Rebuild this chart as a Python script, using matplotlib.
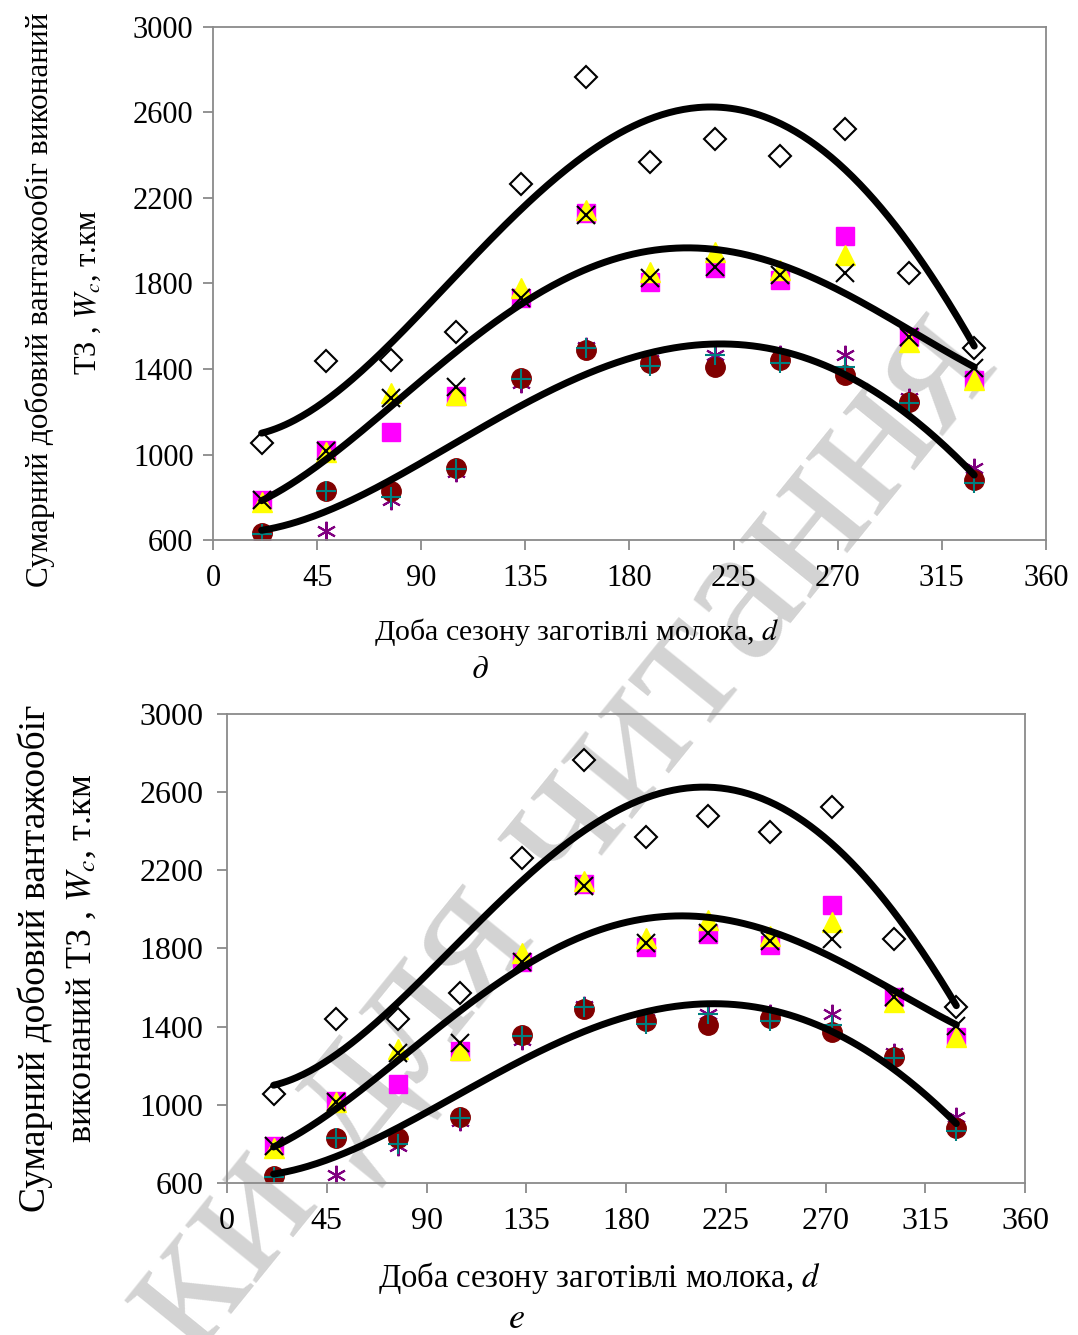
import numpy as np
import matplotlib
matplotlib.use("Agg")
import matplotlib.pyplot as plt

plt.rcParams['font.family'] = ['Liberation Serif', 'DejaVu Serif']
plt.rcParams['mathtext.fontset'] = 'stix'

# Data (day of season, t.km)
days = [21, 49, 77, 105, 133, 161, 189, 217, 245, 273, 301, 329]
diamond = [1055, 1437, 1440, 1573, 2265, 2766, 2368, 2476, 2396, 2523, 1849, 1498]
square = [787, 1021, 1105, 1274, 1732, 2130, 1807, 1872, 1816, 2022, 1550, 1348]
triangle = [780, 1012, 1288, 1278, 1779, 2144, 1854, 1947, 1863, 1933, 1526, 1348]
xcross = [787, 1016, 1264, 1316, 1732, 2120, 1826, 1877, 1840, 1849, 1550, 1405]
circle = [633, 829, 829, 937, 1358, 1489, 1428, 1409, 1442, 1372, 1246, 881]
plus = [630, 829, 801, 932, 1353, 1500, 1415, 1465, 1428, 1409, 1241, 867]
asterisk = [620, 642, 787, 918, 1334, 1505, 1440, 1465, 1465, 1465, 1264, 937]

# trend lines at the same days
trend_upper = [1105, 1264, 1475, 1852, 2175, 2424, 2551, 2593, 2541, 2364, 1989, 1498]
trend_middle = [787, 974, 1217, 1490, 1709, 1863, 1943, 1957, 1896, 1755, 1582, 1409]
trend_lower = [656, 717, 871, 1068, 1246, 1381, 1456, 1512, 1479, 1381, 1194, 895]

xticks = [0, 45, 90, 135, 180, 225, 270, 315, 360]
yticks = [600, 1000, 1400, 1800, 2200, 2600, 3000]

spine_col = '#8a8a8a'


def draw_panel(ax, tick_fs, ypad):
    ax.set_facecolor('none')
    ax.plot(days, diamond, linestyle='none', marker='D', ms=11.5, mfc='white',
            mec='black', mew=1.5)
    ax.plot(days, square, linestyle='none', marker='s', ms=13, mfc='#FF00FF',
            mec='#FF00FF')
    ax.plot(days, triangle, linestyle='none', marker='^', ms=14, mfc='#FFFF00',
            mec='#FFFF00')
    ax.plot(days, xcross, linestyle='none', marker='x', ms=13, mec='black',
            mew=1.5)
    ax.plot(days, asterisk, linestyle='none', marker=(6, 2, 0), ms=14,
            mec='#800080', mew=1.5)
    ax.plot(days, circle, linestyle='none', marker='o', ms=14, mfc='#800000',
            mec='#800000')
    ax.plot(days, plus, linestyle='none', marker='+', ms=15, mec='#008080',
            mew=1.5)

    xs = np.linspace(days[0], days[-1], 300)
    for tr in (trend_upper, trend_middle, trend_lower):
        coef = np.polyfit(days, tr, 4)
        ax.plot(xs, np.polyval(coef, xs), color='black', lw=5,
                solid_capstyle='round')

    ax.set_xlim(0, 360)
    ax.set_ylim(600, 3000)
    ax.set_xticks(xticks)
    ax.set_yticks(yticks)
    for sp in ax.spines.values():
        sp.set_color(spine_col)
        sp.set_linewidth(1.3)
    ax.tick_params(direction='out', length=7, width=1.3, color=spine_col,
                   labelsize=tick_fs)
    ax.tick_params(axis='x', pad=10)
    ax.tick_params(axis='y', pad=ypad)


fig = plt.figure(figsize=(10.78, 13.35), dpi=100)

ax1 = fig.add_axes([0.1976, 0.5955, 0.7727, 0.3843])
draw_panel(ax1, 22, 7)
ax2 = fig.add_axes([0.2106, 0.1139, 0.7403, 0.3513])
draw_panel(ax2, 23, 10)

# axis titles
fig.text(40 / 1078, 1 - 300 / 1335, 'Сумарний добовий вантажообіг виконаний',
         rotation=90, ha='center', va='center', fontsize=22.5)
fig.text(88 / 1078, 1 - 293 / 1335, 'ТЗ , $W_c$, т.км',
         rotation=90, ha='center', va='center', fontsize=22)
fig.text(577 / 1078, 1 - 632 / 1335, 'Доба сезону заготівлі молока, $d$',
         ha='center', va='center', fontsize=21.5)
fig.text(480 / 1078, 1 - 670 / 1335, '$\\partial$',
         ha='center', va='center', fontsize=24)

fig.text(35 / 1078, 1 - 958 / 1335, 'Сумарний добовий вантажообіг',
         rotation=90, ha='center', va='center', fontsize=27)
fig.text(82 / 1078, 1 - 958 / 1335, 'виконаний ТЗ , $W_c$, т.км',
         rotation=90, ha='center', va='center', fontsize=26)
fig.text(599 / 1078, 1 - 1278 / 1335, 'Доба сезону заготівлі молока, $d$',
         ha='center', va='center', fontsize=23.5)
fig.text(516 / 1078, 1 - 1320 / 1335, '$e$',
         ha='center', va='center', fontsize=26)

# watermark
fig.text(1000 / 1078, 1 - 365 / 1335, 'Тільки для читання', rotation=51,
         rotation_mode='anchor', ha='right', va='baseline', fontsize=143,
         color='#d3d3d3', zorder=-1)

fig.savefig('out.png', dpi=100, facecolor='white')
